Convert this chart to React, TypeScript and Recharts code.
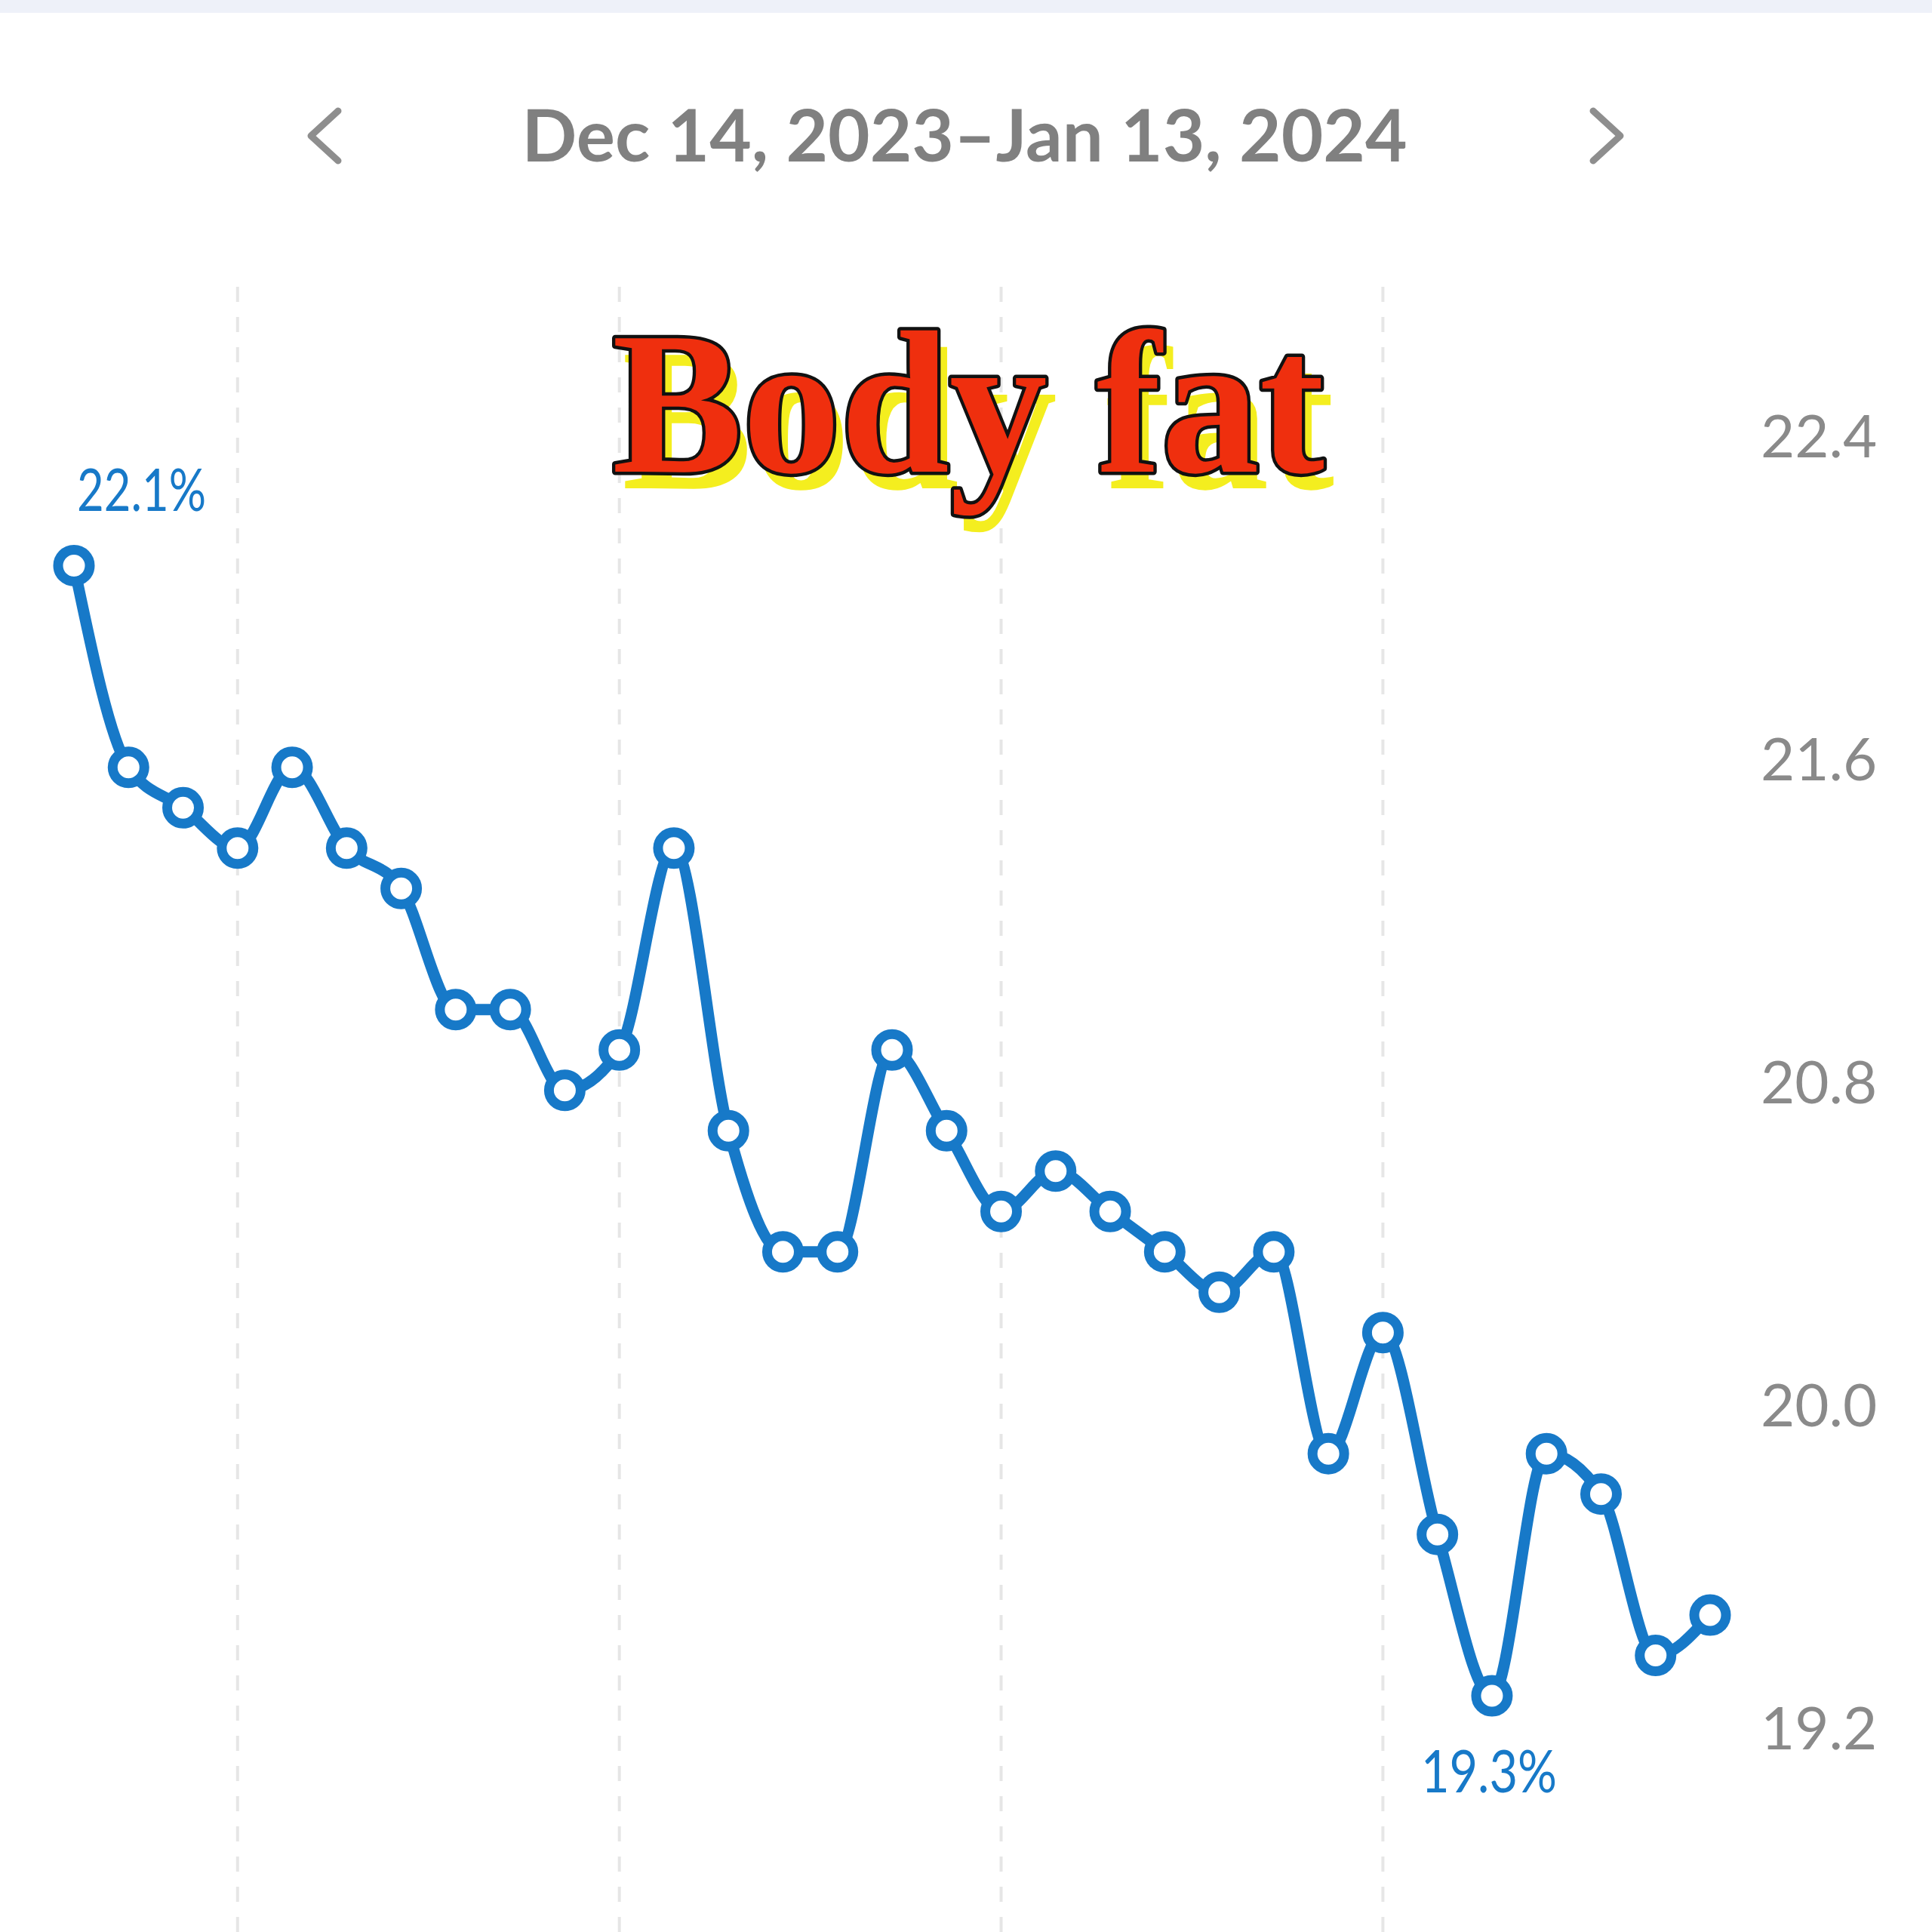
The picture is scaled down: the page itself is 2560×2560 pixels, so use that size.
import React from "react";
import { LineChart, Line, XAxis, YAxis, ReferenceLine } from "recharts";

const dates = [
  "Dec 14", "Dec 15", "Dec 16", "Dec 17", "Dec 18", "Dec 19", "Dec 20", "Dec 21",
  "Dec 22", "Dec 23", "Dec 24", "Dec 25", "Dec 26", "Dec 27", "Dec 28", "Dec 29",
  "Dec 30", "Dec 31", "Jan 1", "Jan 2", "Jan 3", "Jan 4", "Jan 5", "Jan 6",
  "Jan 7", "Jan 8", "Jan 9", "Jan 10", "Jan 11", "Jan 12", "Jan 13",
];

const bodyFat = [
  22.1, 21.6, 21.5, 21.4, 21.6, 21.4, 21.3, 21.0, 21.0, 20.8, 20.9,
  21.4, 20.7, 20.4, 20.4, 20.9, 20.7, 20.5, 20.6, 20.5, 20.4, 20.3,
  20.4, 19.9, 20.2, 19.7, 19.3, 19.9, 19.8, 19.4, 19.5,
];

const yTicks = [19.2, 20.0, 20.8, 21.6, 22.4];
const weekGridIdx = [3, 10, 17, 24];
const titleText = "Dec 14, 2023\u2013Jan 13, 2024";
const overlayTitle = "Body fat";

const BLUE = "#1779c8";

const data = dates.map((d, i) => ({ i, date: d, value: bodyFat[i] }));
const maxIdx = bodyFat.indexOf(Math.max(...bodyFat));
const minIdx = bodyFat.indexOf(Math.min(...bodyFat));

const YTick = (props: any) => {
  const { x, y, payload } = props;
  return (
    <text
      x={x}
      y={y + 17}
      textAnchor="start"
      fontFamily="Lato, 'Open Sans', sans-serif"
      fontSize={78}
      fill="#8a8a8a"
    >
      {Number(payload.value).toFixed(1)}
    </text>
  );
};

const Dot = (props: any) => {
  const { cx, cy, index, value } = props;
  if (cx == null || cy == null) return <g key={`d${index}`} />;
  return (
    <g key={`d${index}`}>
      <circle cx={cx} cy={cy} r={21} fill="#ffffff" stroke={BLUE} strokeWidth={13} />
      {index === maxIdx && (
        <text
          x={cx + 4}
          y={cy - 72}
          textAnchor="start"
          fontFamily="Lato, 'Open Sans', sans-serif"
          fontSize={77}
          fill={BLUE}
          textLength={171}
          lengthAdjust="spacingAndGlyphs"
        >
          {`${Number(value).toFixed(1)}%`}
        </text>
      )}
      {index === minIdx && (
        <text
          x={cx - 4}
          y={cy + 128}
          textAnchor="middle"
          fontFamily="Lato, 'Open Sans', sans-serif"
          fontSize={77}
          fill={BLUE}
          textLength={180}
          lengthAdjust="spacingAndGlyphs"
        >
          {`${Number(value).toFixed(1)}%`}
        </text>
      )}
    </g>
  );
};

export default function App() {
  return (
    <div style={{ position: "relative", width: 2560, height: 2560, background: "#ffffff" }}>
      <style>{"body{margin:0;background:#fff;}"}</style>
      <div style={{ position: "absolute", left: 0, top: 0 }}>
        <LineChart
          width={2560}
          height={2560}
          data={data}
          margin={{ top: 375, right: 0, bottom: 0, left: 98 }}
        >
          <XAxis dataKey="i" type="number" domain={[0, 30]} hide />
          <YAxis
            orientation="right"
            width={294}
            domain={[18.715, 22.8]}
            allowDataOverflow
            ticks={yTicks}
            axisLine={false}
            tickLine={false}
            tickSize={0}
            tickMargin={67}
            tick={<YTick />}
            interval={0}
          />
          {weekGridIdx.map((gx) => (
            <ReferenceLine
              key={gx}
              x={gx}
              stroke="#e6e6e6"
              strokeWidth={4}
              strokeDasharray="20 20"
            />
          ))}
          <Line
            type="monotone"
            dataKey="value"
            stroke={BLUE}
            strokeWidth={15}
            dot={Dot}
            activeDot={false}
            isAnimationActive={false}
          />
        </LineChart>
      </div>
      <svg
        width={2560}
        height={2560}
        style={{ position: "absolute", left: 0, top: 0, pointerEvents: "none" }}
      >
        <rect x={0} y={0} width={2560} height={17} fill="#eef1f9" />
        <polyline
          points="448,147 412,180 448,213"
          fill="none"
          stroke="#8e8e8e"
          strokeWidth={9}
          strokeLinecap="round"
          strokeLinejoin="round"
        />
        <polyline
          points="2111,147 2147,180 2111,213"
          fill="none"
          stroke="#8e8e8e"
          strokeWidth={9}
          strokeLinecap="round"
          strokeLinejoin="round"
        />
        <text
          x={1278}
          y={214}
          textAnchor="middle"
          fontFamily="Lato, 'Open Sans', sans-serif"
          fontWeight={700}
          fontSize={96}
          fill="#808080"
          textLength={1173}
          lengthAdjust="spacingAndGlyphs"
        >
          {titleText}
        </text>
        <text
          x={1283 + 13}
          y={625 + 22}
          textAnchor="middle"
          fontFamily="'Liberation Serif', 'DejaVu Serif', serif"
          fontWeight={700}
          fontSize={270}
          fill="#f4ee1f"
          textLength={944}
          lengthAdjust="spacingAndGlyphs"
        >
          {overlayTitle}
        </text>
        <text
          x={1283}
          y={625}
          textAnchor="middle"
          fontFamily="'Liberation Serif', 'DejaVu Serif', serif"
          fontWeight={700}
          fontSize={270}
          fill="#ef2f0e"
          stroke="#111111"
          strokeWidth={9}
          strokeLinejoin="round"
          paintOrder="stroke"
          textLength={944}
          lengthAdjust="spacingAndGlyphs"
        >
          {overlayTitle}
        </text>
      </svg>
    </div>
  );
}
